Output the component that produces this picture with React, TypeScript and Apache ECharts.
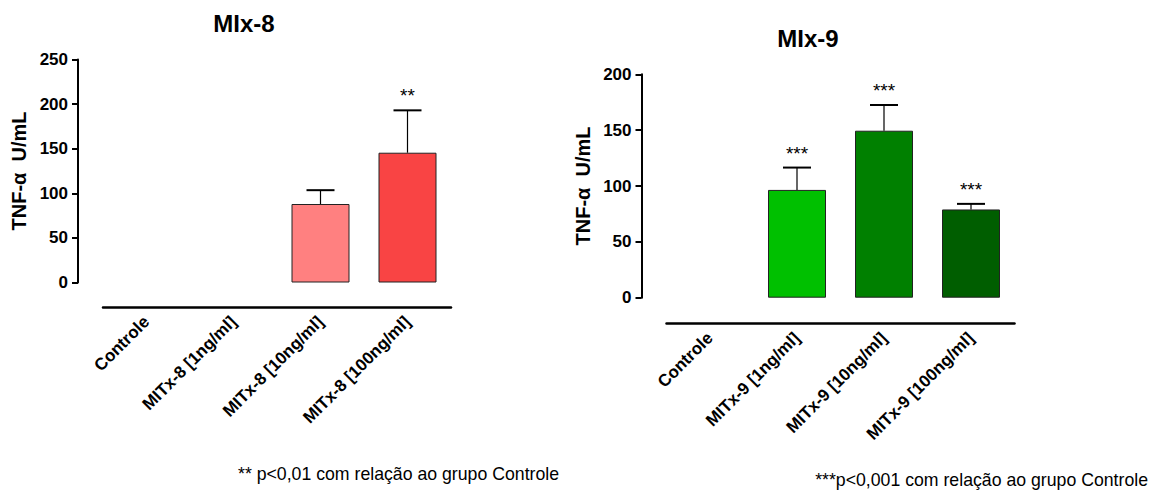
import React, { useEffect, useRef } from "react";
import * as echarts from "echarts";

const categories8 = ["Controle", "MITx-8 [1ng/ml]", "MITx-8 [10ng/ml]", "MITx-8 [100ng/ml]"];
const means8: (number | null)[] = [null, null, 88, 145.5];
const errTop8: (number | null)[] = [null, null, 103.5, 193];
const stars8 = ["", "", "", "**"];

const categories9 = ["Controle", "MITx-9 [1ng/ml]", "MITx-9 [10ng/ml]", "MITx-9 [100ng/ml]"];
const means9: (number | null)[] = [null, 96.5, 149.5, 79];
const errTop9: (number | null)[] = [null, 116.5, 172.5, 84];
const stars9 = ["", "***", "***", "***"];

const colors8 = ["#ffffff", "#ffffff", "#FF8080", "#F94444"];
const colors9 = ["#ffffff", "#00C000", "#008000", "#005E00"];

const FONT = "'Liberation Sans', Arial, sans-serif";

function barData(means: (number | null)[], colors: string[]) {
  return means.map((v, i) =>
    v == null ? "-" : { value: v, itemStyle: { color: colors[i] } }
  );
}

function errData(means: (number | null)[], tops: (number | null)[]) {
  return means.map((v, i) => (v == null ? [i, NaN, NaN] : [i, v, tops[i] as number]));
}

function errSeries(idx: number, means: (number | null)[], tops: (number | null)[], stars: string[]) {
  return {
    type: "custom",
    xAxisIndex: idx,
    yAxisIndex: idx,
    z: 5,
    data: errData(means, tops),
    renderItem: (params: any, api: any) => {
      const i = api.value(0);
      const m = api.value(1);
      const t = api.value(2);
      if (isNaN(m)) return null;
      const p0 = api.coord([i, m]);
      const p1 = api.coord([i, t]);
      const half = 14;
      return {
        type: "group",
        children: [
          { type: "line", shape: { x1: p0[0], y1: p0[1], x2: p1[0], y2: p1[1] }, style: { stroke: "#000", lineWidth: 1.2 } },
          { type: "line", shape: { x1: p1[0] - half, y1: p1[1], x2: p1[0] + half, y2: p1[1] }, style: { stroke: "#000", lineWidth: 2 } },
          {
            type: "text",
            x: p1[0],
            y: p1[1] - 5,
            style: {
              text: stars[params.dataIndex],
              fill: "#000",
              font: `19px ${FONT}`,
              textAlign: "center",
              textVerticalAlign: "bottom",
            },
          },
        ],
      };
    },
  };
}

function yAxisDef(gridIndex: number, max: number) {
  return {
    type: "value",
    gridIndex,
    min: 0,
    max,
    interval: 50,
    offset: 25,
    name: "TNF-\u03B1  U/mL",
    nameLocation: "middle",
    nameRotate: 90,
    nameGap: 49,
    nameTextStyle: { fontFamily: FONT, fontWeight: "bold", fontSize: 20, color: "#000" },
    axisLine: { show: true, lineStyle: { color: "#000", width: 2 } },
    axisTick: { show: true, length: 6, lineStyle: { color: "#000", width: 2 } },
    axisLabel: { fontFamily: FONT, fontWeight: "bold", fontSize: 17, color: "#000", margin: 10 },
    splitLine: { show: false },
  };
}

function xAxisDef(gridIndex: number, cats: string[], offset: number) {
  return {
    type: "category",
    gridIndex,
    data: cats,
    offset,
    axisLine: { show: true, onZero: false, lineStyle: { color: "#000", width: 2.5 } },
    axisTick: { show: false },
    axisLabel: {
      interval: 0,
      rotate: 45,
      margin: 12,
      fontFamily: FONT,
      fontWeight: "bold",
      fontSize: 17,
      color: "#000",
    },
  };
}

export default function App() {
  const ref = useRef<HTMLDivElement>(null);
  useEffect(() => {
    if (!ref.current) return;
    const chart = echarts.init(ref.current, null, { renderer: "svg" });
    chart.setOption({
      animation: false,
      backgroundColor: "#fff",
      grid: [
        { left: 103, top: 59.5, width: 348, height: 223, containLabel: false },
        { left: 666.5, top: 74.3, width: 348, height: 223.4, containLabel: false },
      ],
      xAxis: [xAxisDef(0, categories8, 24.5), xAxisDef(1, categories9, 25.6)],
      yAxis: [yAxisDef(0, 250), yAxisDef(1, 200)],
      series: [
        {
          type: "bar",
          xAxisIndex: 0,
          yAxisIndex: 0,
          barWidth: 58,
          itemStyle: { borderColor: "#222", borderWidth: 1 },
          data: barData(means8, colors8),
        },
        errSeries(0, means8, errTop8, stars8),
        {
          type: "bar",
          xAxisIndex: 1,
          yAxisIndex: 1,
          barWidth: 58,
          itemStyle: { borderColor: "#222", borderWidth: 1 },
          data: barData(means9, colors9),
        },
        errSeries(1, means9, errTop9, stars9),
      ],
      graphic: [
        {
          type: "text",
          x: 244,
          y: 23,
          style: {
            text: "MIx-8",
            font: `bold 24px ${FONT}`,
            fill: "#000",
            textAlign: "center",
            textVerticalAlign: "middle",
          },
        },
        {
          type: "text",
          x: 808,
          y: 38,
          style: {
            text: "MIx-9",
            font: `bold 24px ${FONT}`,
            fill: "#000",
            textAlign: "center",
            textVerticalAlign: "middle",
          },
        },
        {
          type: "text",
          x: 238,
          y: 474,
          style: {
            text: "** p<0,01 com relação ao grupo Controle",
            font: `17.7px ${FONT}`,
            fill: "#000",
            textAlign: "left",
            textVerticalAlign: "middle",
          },
        },
        {
          type: "text",
          x: 1148,
          y: 480,
          style: {
            text: "***p<0,001 com relação ao grupo Controle",
            font: `17.7px ${FONT}`,
            fill: "#000",
            textAlign: "right",
            textVerticalAlign: "middle",
          },
        },
      ],
    });
    return () => chart.dispose();
  }, []);
  return <div ref={ref} style={{ position: "fixed", left: 0, top: 0, width: 1160, height: 494 }} />;
}
